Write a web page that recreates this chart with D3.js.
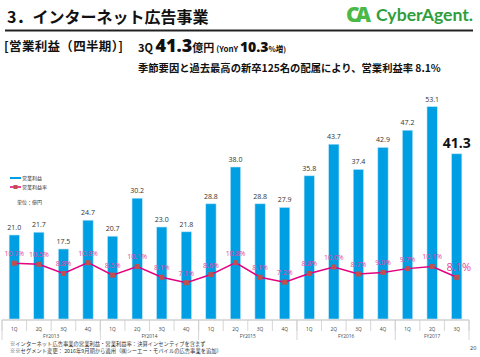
<!DOCTYPE html>
<html><head><meta charset="utf-8">
<script src="https://cdn.jsdelivr.net/npm/d3@7"></script>
<style>
html,body{margin:0;padding:0;background:#fff;}
svg{display:block;}
</style></head>
<body>
<svg id="c" width="480" height="357"></svg>
<script>
const quarters = ["1Q","2Q","3Q","4Q","1Q","2Q","3Q","4Q","1Q","2Q","3Q","4Q","1Q","2Q","3Q","4Q","1Q","2Q","3Q"];
const fiscalYears = ["FY2013","FY2014","FY2015","FY2016","FY2017"];
const fyCounts = [4,4,4,4,3];
const profit = [21.0,21.7,17.5,24.7,20.7,30.2,23.0,21.8,28.8,38.0,28.8,27.9,35.8,43.7,37.4,42.9,47.2,53.1,41.3];
const margin = [10.7,10.5,8.8,10.8,8.5,10.1,8.1,7.1,8.6,10.8,8.1,7.2,8.8,10.0,8.7,9.0,9.7,10.1,8.1];

const svg = d3.select("#c");
const JP = "'Noto Sans CJK JP', 'Noto Sans', sans-serif";
const NUM = "'Open Sans', 'Noto Sans', sans-serif";
const idx = d3.range(profit.length);

const x = d3.scaleBand().domain(idx).range([2, 469]).paddingInner(0.58).paddingOuter(0.29);
const y = d3.scaleLinear().domain([0, 60]).range([319, 79]);
const y2 = d3.scaleLinear().domain([0, 20]).range([321, 213]);

// Header
svg.append("text").attr("x", 7).attr("y", 23).attr("font-family", JP).attr("font-weight", "bold")
  .attr("font-size", 16).attr("fill", "#111").text("3．インターネット広告事業");
svg.append("line").attr("x1", 5).attr("x2", 473).attr("y1", 30.5).attr("y2", 30.5).attr("stroke", "#222").attr("stroke-width", 2);

// Logo
const logo = svg.append("g");
logo.append("text").attr("x", 346).attr("y", 22).attr("font-family", NUM).attr("font-weight", "800")
  .attr("font-size", 21).attr("fill", "#4cb848").attr("letter-spacing", -4).text("CA");
logo.append("text").attr("x", 376).attr("y", 21).attr("font-family", "'Lato', 'Noto Sans', sans-serif").attr("font-weight", "bold")
  .attr("font-size", 17).attr("fill", "#2f9e3c").attr("textLength", 97).attr("lengthAdjust", "spacingAndGlyphs").text("CyberAgent.");

// Subtitle line 1
svg.append("text").attr("x", 4).attr("y", 51).attr("font-family", JP).attr("font-weight", "bold")
  .attr("font-size", 12.5).attr("fill", "#111").attr("textLength", 119).text("[営業利益（四半期）]");
const t1 = svg.append("text").attr("x", 138).attr("y", 52).attr("font-family", JP).attr("font-weight", "bold").attr("fill", "#111");
t1.append("tspan").attr("font-size", 11).text("3Q ");
t1.append("tspan").attr("font-family", NUM).attr("font-size", 18).attr("font-weight", "800").text("41.3");
t1.append("tspan").attr("font-size", 11).text("億円");
t1.append("tspan").attr("font-size", 8).attr("dx", 2).text("(YonY ");
t1.append("tspan").attr("font-family", NUM).attr("font-size", 14).attr("font-weight", "800").text("10.3");
t1.append("tspan").attr("font-size", 7.5).text("%増)");
svg.append("text").attr("x", 138).attr("y", 72).attr("font-family", JP).attr("font-weight", "bold")
  .attr("font-size", 10.3).attr("fill", "#111").text("季節要因と過去最高の新卒125名の配属により、営業利益率 8.1%");

// Legend
svg.append("line").attr("x1", 10).attr("x2", 21).attr("y1", 178).attr("y2", 178).attr("stroke", "#009fe3").attr("stroke-width", 2);
svg.append("text").attr("x", 22).attr("y", 180).attr("font-family", JP).attr("font-size", 5).attr("fill", "#333").text("営業利益");
svg.append("line").attr("x1", 10).attr("x2", 21).attr("y1", 187).attr("y2", 187).attr("stroke", "#e4007f").attr("stroke-width", 1.5);
svg.append("rect").attr("x", 13.5).attr("y", 185).attr("width", 4).attr("height", 4).attr("fill", "#c0504d");
svg.append("text").attr("x", 22).attr("y", 189).attr("font-family", JP).attr("font-size", 5).attr("fill", "#333").text("営業利益率");
svg.append("text").attr("x", 17).attr("y", 204).attr("font-family", JP).attr("font-size", 5).attr("fill", "#333").text("単位：億円");

// Bars
svg.append("g").selectAll("rect").data(idx).join("rect")
  .attr("x", i => x(i)).attr("width", x.bandwidth())
  .attr("y", i => y(profit[i])).attr("height", i => y(0) - y(profit[i]))
  .attr("fill", "#009fe3").attr("stroke", "#bfe6f8").attr("stroke-width", 0.6);

// Bar labels
svg.append("g").selectAll("text").data(idx).join("text")
  .attr("x", i => x(i) + x.bandwidth() / 2)
  .attr("y", i => i === profit.length - 1 ? y(profit[i]) - 6 : y(profit[i]) - 5)
  .attr("text-anchor", "middle").attr("font-family", NUM)
  .attr("font-size", i => i === profit.length - 1 ? 14 : 7)
  .attr("font-weight", i => i === profit.length - 1 ? "bold" : "normal")
  .attr("fill", i => i === profit.length - 1 ? "#111" : "#333")
  .text(i => profit[i].toFixed(1));

// Axis
const ax = svg.append("g");
ax.append("line").attr("x1", 2).attr("x2", 469).attr("y1", 320).attr("y2", 320).attr("stroke", "#bbb").attr("stroke-width", 1);
const step = x.step();
const x0 = x.range()[0];
d3.range(profit.length + 1).forEach(k => {
  ax.append("line").attr("x1", x0 + k * step).attr("x2", x0 + k * step)
    .attr("y1", 320).attr("y2", 331).attr("stroke", "#ccc").attr("stroke-width", 0.8);
});
let acc = 0;
const fyStarts = fyCounts.map(c => { const s = acc; acc += c; return s; });
fyStarts.concat([acc]).forEach(k => {
  ax.append("line").attr("x1", x0 + k * step).attr("x2", x0 + k * step)
    .attr("y1", 320).attr("y2", 340).attr("stroke", "#ccc").attr("stroke-width", 0.8);
});
ax.selectAll("text.q").data(idx).join("text").attr("class", "q")
  .attr("x", i => x(i) + x.bandwidth() / 2).attr("y", 330.5).attr("text-anchor", "middle")
  .attr("font-family", NUM).attr("font-size", 4.8).attr("fill", "#444").text(i => quarters[i]);
ax.selectAll("text.fy").data(fiscalYears).join("text").attr("class", "fy")
  .attr("x", (d, j) => x0 + (fyStarts[j] + fyCounts[j] / 2) * step).attr("y", 337.8).attr("text-anchor", "middle")
  .attr("font-family", NUM).attr("font-size", 4.8).attr("fill", "#444").text(d => d);

// Line
const line = d3.line().x(i => x(i) + x.bandwidth() / 2).y(i => y2(margin[i]));
svg.append("path").datum(idx).attr("d", line).attr("fill", "none").attr("stroke", "#e4007f").attr("stroke-width", 1.5);
svg.append("g").selectAll("rect").data(idx).join("rect")
  .attr("x", i => x(i) + x.bandwidth() / 2 - 2.5).attr("y", i => y2(margin[i]) - 2.5)
  .attr("width", 5).attr("height", 5).attr("fill", "#c0504d");
svg.append("g").selectAll("text").data(idx).join("text")
  .attr("x", i => x(i) + x.bandwidth() / 2 + (i === profit.length - 1 ? 2 : 0))
  .attr("y", i => i === profit.length - 1 ? y2(margin[i]) - 6 : y2(margin[i]) - 7)
  .attr("text-anchor", "middle").attr("font-family", NUM)
  .attr("font-size", i => i === profit.length - 1 ? 11 : 7)
  .attr("fill", "#e8419a").text(i => margin[i].toFixed(1) + "%");

// Footnotes
svg.append("text").attr("x", 10).attr("y", 346).attr("font-family", JP).attr("font-size", 5.3).attr("fill", "#333")
  .text("※インターネット広告事業の営業利益・営業利益率：決算インセンティブを含まず");
svg.append("text").attr("x", 10).attr("y", 353).attr("font-family", JP).attr("font-size", 5.3).attr("fill", "#333")
  .text("※※セグメント変更： 2016年9月期から適用（㈱シーエー・モバイルの広告事業を追加）");
svg.append("text").attr("x", 470).attr("y", 350).attr("font-family", NUM).attr("font-size", 5.5).attr("fill", "#333").text("20");
</script>
</body></html>
